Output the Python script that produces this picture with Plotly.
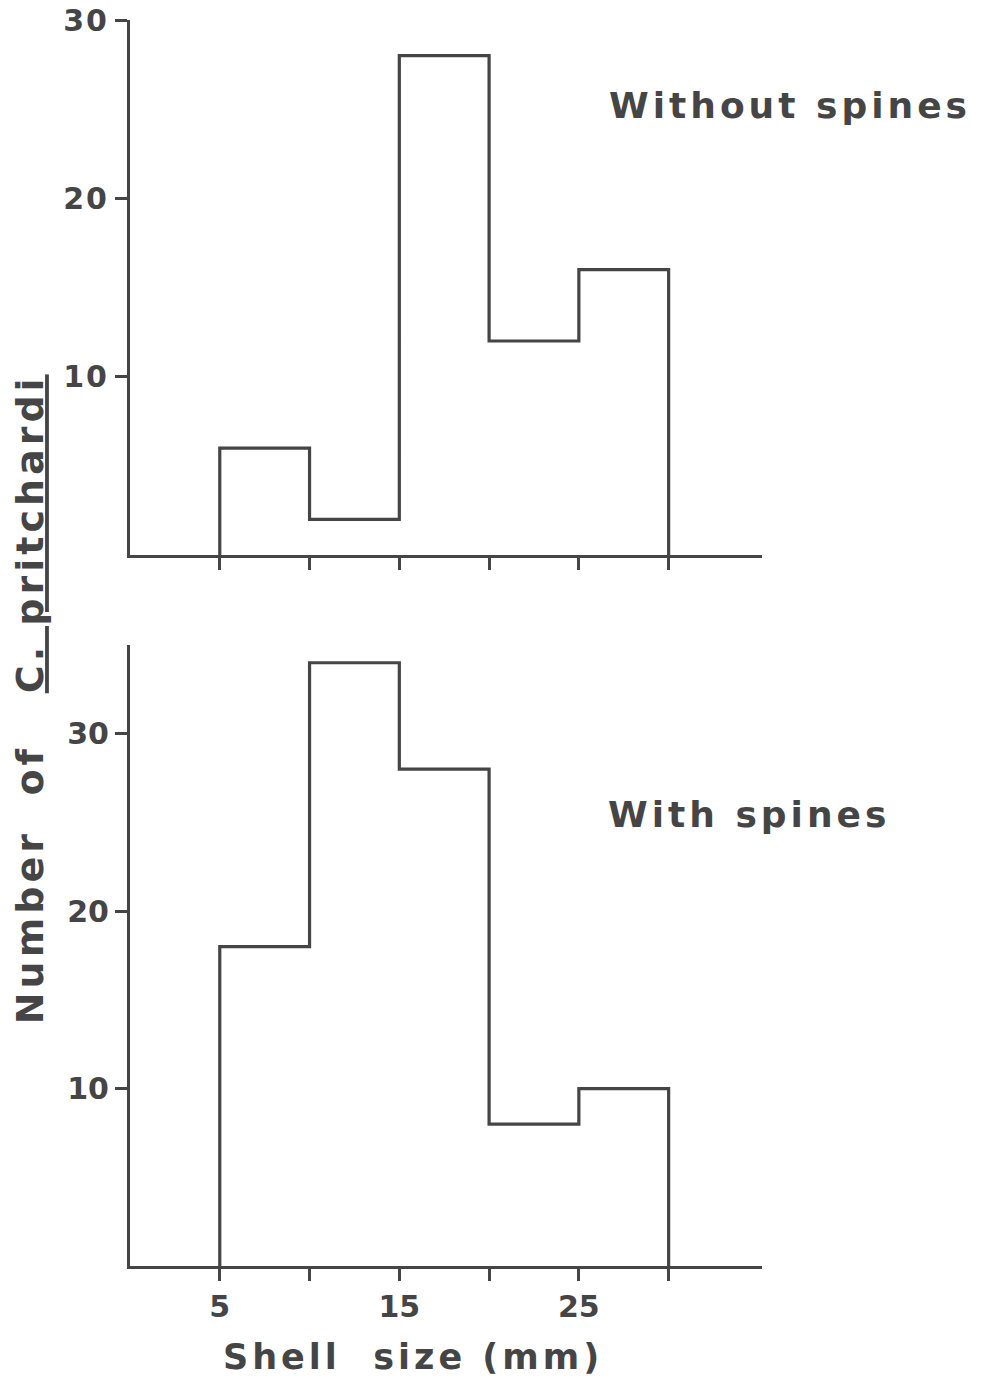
import plotly.graph_objects as go
from plotly.subplots import make_subplots

bin_edges = [5, 10, 15, 20, 25, 30]
without_spines = [6, 2, 28, 12, 16]
with_spines = [18, 34, 28, 8, 10]
x_tick_vals = [5, 10, 15, 20, 25, 30]
x_tick_text = ["5", "", "15", "", "25", ""]
y_tick_vals = [10, 20, 30]

INK = "#454545"
FONT = "DejaVu Sans"
NB = "\u00a0"


def step_path(edges, counts):
    xs, ys = [edges[0]], [0]
    for i, c in enumerate(counts):
        xs += [edges[i], edges[i + 1]]
        ys += [c, c]
    xs.append(edges[-1])
    ys.append(0)
    return xs, ys


fig = make_subplots(rows=2, cols=1, shared_xaxes=False, vertical_spacing=0.07)

for r, counts in ((1, without_spines), (2, with_spines)):
    xs, ys = step_path(bin_edges, counts)
    fig.add_trace(go.Scatter(x=xs, y=ys, mode="lines",
                             line=dict(color=INK, width=3.2),
                             showlegend=False, hoverinfo="skip"), row=r, col=1)

tickfont = dict(family=FONT, size=30, color=INK, weight="bold")
common_x = dict(range=[0, 35.2], showline=True, linecolor=INK, linewidth=3.2,
                ticks="outside", ticklen=12, tickwidth=3, tickcolor=INK,
                tickvals=x_tick_vals, showgrid=False, zeroline=False,
                tickfont=tickfont, automargin=False)
fig.update_xaxes(**common_x)
fig.update_xaxes(showticklabels=False, row=1, col=1)
fig.update_xaxes(ticktext=x_tick_text, row=2, col=1)

common_y = dict(showline=True, linecolor=INK, linewidth=3.2,
                ticks="outside", ticklen=12, tickwidth=3, tickcolor=INK,
                tickvals=y_tick_vals, showgrid=False, zeroline=False,
                tickfont=tickfont, automargin=False)
fig.update_yaxes(**common_y)
fig.update_yaxes(range=[0, 30], domain=[0.5706, 1.0], row=1, col=1)
fig.update_yaxes(range=[0, 35], domain=[0.0, 0.4984], row=2, col=1)

annfont = dict(family=FONT, size=36, color=INK, weight="bold")
fig.add_annotation(text="Without spines", xref="paper", yref="paper",
                   x=1.045, y=0.931, xanchor="center", yanchor="middle",
                   showarrow=False, font=annfont)
fig.add_annotation(text="With spines", xref="paper", yref="paper",
                   x=0.979, y=0.362, xanchor="center", yanchor="middle",
                   showarrow=False, font=annfont)
fig.add_annotation(text="Shell" + NB + NB + "size (mm)", xref="paper", yref="paper",
                   x=0.448, y=-0.073, xanchor="center", yanchor="middle",
                   showarrow=False, font=dict(family=FONT, size=35, color=INK, weight="bold"))
fig.add_annotation(text="Number" + NB + NB + "of" + NB + NB + NB + "<u>C. pritchardi</u>",
                   xref="paper", yref="paper",
                   x=-0.158, y=0.455, xanchor="center", yanchor="middle",
                   textangle=-90, showarrow=False,
                   font=dict(family=FONT, size=38, color=INK, weight="bold"))

fig.update_layout(width=981, height=1380,
                  margin=dict(l=130, r=219, t=20, b=114, autoexpand=False),
                  paper_bgcolor="white", plot_bgcolor="white")

spacing_js = """
document.body.style.margin='0';
document.querySelectorAll('.annotation-text').forEach(function(e){e.style.letterSpacing='4px';});
document.querySelectorAll('.xtick text, .ytick text').forEach(function(e){e.style.letterSpacing='2px';});
"""
fig.write_html("out.html", post_script=spacing_js, config={"displayModeBar": False})
